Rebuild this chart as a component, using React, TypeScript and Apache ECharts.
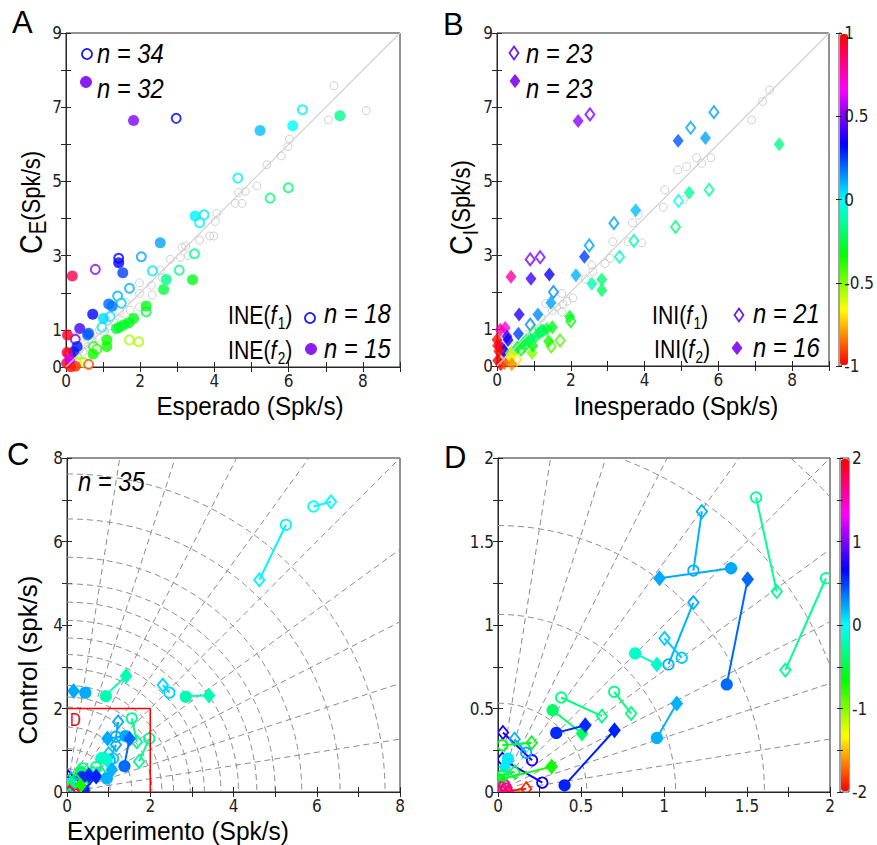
import React, { useEffect, useRef } from 'react';
import * as echarts from 'echarts';

// ---------------- data ----------------
const diag = [[0, 0], [9, 9]];
const aGray = [[8.09,6.91],[7.22,7.58],[7.07,6.66],[6.02,6.14],[5.98,5.94],[5.8,5.69],[5.41,5.45],[5.14,4.88],[4.83,4.73],[4.65,4.7],[4.74,4.41],[4.56,4.41],[4.06,4.14],[4.02,3.92],[3.87,3.53],[3.98,3.53],[3.6,3.42],[3.12,3.22],[3.22,3.26],[3.08,2.95],[2.81,2.9],[2.54,2.61],[1.98,2.27],[1.98,1.98],[2.32,1.94],[1.98,1.62],[1.73,1.53],[1.6,1.75],[1.45,1.5],[1.3,1.2],[1.15,1.25],[1.05,0.95],[0.9,1.0],[0.85,0.8],[0.7,0.75],[0.6,0.55],[0.5,0.6],[0.45,0.4],[0.35,0.45],[0.3,0.3],[0.2,0.25],[1.2,0.9],[1.5,1.25],[2.3,2.2],[2.6,2.4],[3.3,3.0]];
// [x, y, colour value]
const aOpen = [[2.97,6.7,0.33],[6.37,6.93,0.02],[4.63,5.09,0.02],[5.5,4.55,-0.18],[5.99,4.83,-0.18],[3.72,4.1,0.03],[3.6,3.89,0.02],[3.46,3.05,-0.15],[3.05,2.61,-0.15],[2.33,2.59,0.03],[2.03,2.97,0.12],[1.42,2.93,0.33],[1.71,2.12,0.1],[1.39,1.91,0.1],[0.79,2.63,0.52],[1.49,1.72,0.06],[1.19,1.36,0.03],[0.97,1.07,0.03],[2.16,1.49,-0.25],[1.71,0.73,-0.55],[1.96,0.68,-0.55],[0.74,0.55,-0.35],[0.83,0.48,-0.4],[0.25,0.75,0.5],[0.12,0.32,0.45],[0.37,0.14,-0.58],[0.47,0.12,-0.55],[0.3,0.1,-0.6],[0.61,0.07,-0.9],[0.08,0.35,0.7]];
const aFilled = [[1.82,6.64,0.5],[5.23,6.37,0.08],[6.11,6.5,0.0],[7.38,6.77,-0.15],[3.48,4.07,0.02],[2.54,3.35,0.12],[1.42,2.81,0.33],[1.53,2.54,0.25],[0.17,2.45,0.9],[2.7,2.36,-0.15],[2.63,2.09,-0.25],[3.41,2.35,-0.3],[0.72,1.42,0.33],[1.15,1.7,0.2],[1.24,1.64,0.18],[1.01,1.31,0.05],[2.16,1.64,-0.3],[1.82,1.31,-0.3],[1.69,1.19,-0.3],[1.55,1.13,-0.3],[1.44,1.07,-0.28],[1.36,1.04,-0.28],[1.1,0.73,-0.35],[1.1,0.55,-0.35],[0.73,0.35,-0.35],[0.37,1.04,0.42],[0.58,0.86,0.2],[0.61,0.91,0.22],[0.04,0.86,0.95],[0.3,0.55,0.3],[0.21,0.41,0.3],[0.03,0.39,0.97],[0.02,0.1,0.98],[0.12,0.01,-0.98],[0.25,0.02,-0.95],[0.1,0.2,0.6]];
const bGray = [[7.39,7.46],[7.2,7.15],[6.9,6.65],[5.8,5.63],[5.41,5.63],[5.55,5.48],[5.14,5.39],[4.9,5.3],[4.55,4.76],[4.51,4.29],[5.05,4.49],[3.83,4.08],[3.67,3.87],[3.56,3.36],[3.92,3.33],[3.14,3.36],[3.07,2.91],[2.93,2.77],[2.57,2.73],[2.6,2.55],[2.06,1.84],[1.76,1.96],[1.79,1.67],[1.62,1.6],[1.33,1.69],[1.76,1.46],[1.5,1.5],[1.2,1.3],[1.0,1.0],[0.8,0.85],[0.7,0.6],[0.5,0.55],[0.4,0.35],[0.3,0.3],[0.2,0.15],[1.9,1.75],[2.4,2.35]];
const bOpen = [[2.52,6.8,0.5],[5.88,6.86,0.12],[5.25,6.44,0.12],[3.17,3.86,0.12],[2.5,3.26,0.12],[1.53,2.0,0.15],[0.9,1.12,0.15],[4.92,4.46,0.0],[5.75,4.76,-0.12],[4.84,3.76,-0.17],[3.71,3.38,-0.1],[3.32,2.95,-0.08],[0.9,2.88,0.5],[1.17,2.94,0.5],[2.0,1.21,-0.33],[1.71,0.69,-0.42],[1.47,0.53,-0.45],[1.0,0.9,-0.25],[1.2,0.95,-0.2],[0.75,0.55,-0.3],[0.65,0.45,-0.3],[0.54,0.17,-0.7],[0.35,0.3,-0.6],[0.15,0.45,0.6]];
const bFilled = [[2.2,6.62,0.52],[4.91,6.09,0.22],[5.65,6.16,0.12],[7.65,5.99,-0.15],[5.21,4.68,-0.12],[3.76,4.21,0.08],[2.37,2.95,0.25],[2.14,2.45,0.1],[2.57,2.22,-0.1],[2.84,2.34,-0.18],[2.84,2.05,-0.2],[1.42,2.47,0.35],[0.92,2.36,0.42],[0.38,2.41,0.78],[0.6,1.39,0.38],[1.11,1.39,0.15],[1.46,1.71,0.12],[0.58,0.87,0.25],[1.97,1.33,-0.3],[1.4,0.67,-0.35],[0.95,0.35,-0.5],[0.97,0.55,-0.3],[1.05,0.8,-0.2],[1.15,0.9,-0.22],[1.25,0.95,-0.22],[1.35,1.0,-0.25],[1.5,1.05,-0.3],[0.9,0.75,-0.2],[0.8,0.7,-0.22],[0.7,0.6,-0.25],[0.55,0.5,-0.3],[0.22,1.03,0.7],[0.09,0.98,0.78],[0.27,0.8,0.42],[0.3,0.7,0.35],[0.09,0.53,0.55],[0.19,0.41,0.33],[0.36,0.35,-0.55],[0.36,0.2,-0.68],[0.0,0.71,-0.98],[0.02,0.55,0.98],[0.05,0.4,-0.98],[0.02,0.15,-1.0],[0.1,0.05,0.98],[0.2,0.08,-0.9],[0.4,0.05,-0.82]];
// [circleX, circleY, diamondX, diamondY, colour value, filled]
const pairs = [
  [5.92,6.84,6.34,6.95,0.0,0],[5.26,6.4,4.62,5.08,0.02,0],[0.44,2.38,0.16,2.42,0.22,1],[0.93,2.32,1.42,2.78,-0.2,1],
  [2.46,2.38,2.3,2.56,0.1,0],[2.85,2.3,3.41,2.31,-0.2,1],[1.555,1.764,1.679,1.2,-0.28,0],[1.976,1.28,1.731,0.73,-0.28,0],
  [1.177,1.326,1.228,1.68,0.2,0],[1.404,1.34,0.973,1.28,0.22,1],[1.378,0.644,1.504,1.274,0.39,1],[1.027,0.764,1.177,1.134,0.2,0],
  [1.107,0.804,1.003,0.92,0.13,0],[0.826,0.83,0.957,0.764,-0.13,1],[0.7,0.6,0.802,0.47,-0.33,0],[0.381,0.566,0.626,0.454,-0.33,0],
  [0.329,0.49,0.506,0.35,-0.4,1],[0.351,0.354,0.526,0.4,0.56,1],[0.401,0.04,0.702,0.37,0.58,1],[0.957,0.324,1.077,0.53,0.2,1],
  [0.205,0.19,0.03,0.356,0.75,0],[0.17,0.235,0.1,0.316,0.2,0],[0.026,0.28,0.203,0.295,-0.6,0],[0.267,0.056,0.026,0.196,0.7,0],
  [0.015,0.075,0.323,0.152,-0.7,1],[0.02,0.0,0.17,0.02,-1.9,0],[0.04,0.04,0.02,0.03,1.5,0],[0.06,0.2,0.04,0.15,0.05,1],
  [0.03,0.1,0.1,0.12,-0.5,0],[0.05,0.02,0.06,0.0,1.7,0]
];
const cArcRadii = [0.56, 1.04, 1.56, 2.04, 2.28, 2.56, 2.96, 3.3, 3.7, 4.12, 4.56, 5.0, 5.64, 6.56, 7.64];
const dArcRadii = [0.535, 1.07, 1.605, 2.14, 2.675];
const spokeAngles = [9, 18, 27, 36, 45, 54, 63, 72, 81];
const zoomBox = [[0, 2], [2, 2], [2, 0]];
const abXLabels = [0, 2, 4, 6, 8];
const abYLabels = [0, 1, 3, 5, 7, 9];
const cLabels = [0, 2, 4, 6, 8];
const dLabels = [0, 0.5, 1, 1.5, 2];
const cbBLabels = [-1, -0.5, 0, 0.5, 1];
const cbDLabels = [-2, -1, 0, 1, 2];
const HSV = ['#ff0000', '#ffff00', '#00ff00', '#00ffff', '#0000ff', '#ff00ff', '#ff0000'];

// ---------------- style ----------------
const TICKFONT = "'DejaVu Sans Condensed','Liberation Sans',sans-serif";
const TXTFONT = "'Liberation Sans',Arial,sans-serif";
const SX = 0.85; // horizontal squeeze that mimics a narrow face
const AX = '#262626';
const GRIDS = [
  { left: 66, top: 33, width: 334, height: 334 },
  { left: 497, top: 33, width: 332, height: 333 },
  { left: 67, top: 458, width: 333, height: 334 },
  { left: 498, top: 458, width: 332, height: 334 },
  { left: 839, top: 33, width: 9, height: 333 },
  { left: 840, top: 458, width: 9, height: 334 },
];

const measure = (() => {
  let ctx: CanvasRenderingContext2D | null = null;
  return (t: string, size: number, italic = false) => {
    if (!ctx) ctx = document.createElement('canvas').getContext('2d');
    if (!ctx) return t.length * size * 0.5;
    ctx.font = `${italic ? 'italic ' : ''}${size}px ${TXTFONT}`;
    return ctx.measureText(t).width;
  };
})();

const fmt = (labels: number[]) => (v: number) => (labels.some((l) => Math.abs(l - v) < 1e-9) ? String(v) : '');
const tickLabel = (labels: number[], margin: number) => ({ formatter: fmt(labels), fontSize: 17, color: '#222', fontFamily: TICKFONT, margin });

function mainX(grid: number, max: number, interval: number, labels: number[]) {
  return {
    gridIndex: grid, type: 'value', min: 0, max, interval, position: 'bottom',
    axisLine: { show: true, onZero: false, lineStyle: { color: AX, width: 1 } },
    axisTick: { show: true, inside: true, length: 5, lineStyle: { color: AX } },
    axisLabel: tickLabel(labels, 5),
    splitLine: { show: false },
  };
}
function mirrorX(grid: number, max: number, interval: number) {
  return {
    gridIndex: grid, type: 'value', min: 0, max, interval, position: 'top',
    axisLine: { show: false }, axisLabel: { show: false }, splitLine: { show: false },
    axisTick: { show: true, inside: true, length: 5, lineStyle: { color: AX } },
  };
}
function mainY(grid: number, max: number, interval: number, labels: number[]) {
  return {
    gridIndex: grid, type: 'value', min: 0, max, interval, position: 'left',
    axisLine: { show: true, onZero: false, lineStyle: { color: AX, width: 1 } },
    axisTick: { show: true, inside: true, length: 5, lineStyle: { color: AX } },
    axisLabel: tickLabel(labels, 4),
    splitLine: { show: false },
  };
}
function mirrorY(grid: number, max: number, interval: number) {
  return {
    gridIndex: grid, type: 'value', min: 0, max, interval, position: 'right',
    axisLine: { show: false }, axisLabel: { show: false }, splitLine: { show: false },
    axisTick: { show: true, inside: true, length: 5, lineStyle: { color: AX } },
  };
}
function cbY(grid: number, lim: number, labels: number[], side: 'left' | 'right') {
  return {
    gridIndex: grid, type: 'value', min: -lim, max: lim, interval: 0.5, position: side, z: 10,
    axisLine: { show: false }, splitLine: { show: false },
    axisTick: { show: true, inside: true, length: 3, lineStyle: { color: '#222' } },
    axisLabel: side === 'right' ? tickLabel(labels, 3) : { show: false },
  };
}

// horizontally flowing pieces of text (sub/superscripts), squeezed as a group
type Seg = [string, number, boolean?, number?];
function runs(x0: number, y0: number, segs: Seg[], opts: any = {}) {
  let x = 0;
  const children: any[] = [];
  for (const [t, size, italic, dy] of segs) {
    children.push({
      type: 'text', x, y: dy || 0,
      style: { text: t, fontSize: size, fontFamily: TXTFONT, fontStyle: italic ? 'italic' : 'normal', fill: '#000', align: 'left', verticalAlign: 'middle' },
    });
    x += measure(t, size, !!italic) + (italic ? 1.5 : 0);
  }
  return { type: 'group', x: x0, y: y0, scaleX: opts.sx ?? SX, rotation: opts.rotation || 0, children };
}
const label = (x: number, y: number, t: string, size: number, opts: any = {}) => ({
  type: 'text', x, y, scaleX: opts.sx ?? SX,
  style: { text: t, fontSize: size, fontFamily: TXTFONT, fontStyle: opts.italic ? 'italic' : 'normal', fill: opts.fill || '#000', align: opts.align || 'left', verticalAlign: 'middle' },
});
const diamond = (x: number, y: number, w: number, h: number, color: string, filled: boolean) => ({
  type: 'polygon',
  shape: { points: [[x, y - h], [x + w, y], [x, y + h], [x - w, y]] },
  style: { fill: filled ? color : 'none', stroke: color, lineWidth: filled ? 1 : 1.8 },
});
const circ = (x: number, y: number, r: number, color: string, filled: boolean) => ({
  type: 'circle', shape: { cx: x, cy: y, r },
  style: { fill: filled ? color : 'none', stroke: color, lineWidth: filled ? 1 : 1.8 },
});

function pairRender(_p: any, api: any) {
  const c = api.coord([api.value(0), api.value(1)]);
  const d = api.coord([api.value(2), api.value(3)]);
  const color = api.visual('color');
  const filled = api.value(5) === 1;
  const fill = filled ? color : 'none';
  return {
    type: 'group',
    children: [
      { type: 'line', shape: { x1: c[0], y1: c[1], x2: d[0], y2: d[1] }, style: { stroke: color, lineWidth: 2 } },
      { type: 'circle', shape: { cx: c[0], cy: c[1], r: 5.2 }, style: { fill, stroke: color, lineWidth: 1.8 } },
      { type: 'polygon', shape: { points: [[d[0], d[1] - 6.5], [d[0] + 5.2, d[1]], [d[0], d[1] + 6.5], [d[0] - 5.2, d[1]]] }, style: { fill, stroke: color, lineWidth: 1.8 } },
    ],
  };
}
function arcRender(_p: any, api: any) {
  const o = api.coord([0, 0]);
  const r = api.size([api.value(0), 0])[0];
  return {
    type: 'arc',
    shape: { cx: o[0], cy: o[1], r, startAngle: -Math.PI / 2, endAngle: 0 },
    style: { stroke: '#8c8c8c', lineWidth: 1, lineDash: [6, 4], fill: null },
  };
}
function spokeRender(_p: any, api: any) {
  const o = api.coord([0, 0]);
  const a = (api.value(0) * Math.PI) / 180;
  const p = api.coord([30 * Math.cos(a), 30 * Math.sin(a)]);
  return {
    type: 'line',
    shape: { x1: o[0], y1: o[1], x2: p[0], y2: p[1] },
    style: { stroke: '#8c8c8c', lineWidth: 1, lineDash: [6, 4] },
  };
}

function buildOption() {
  const xAxis = [
    mainX(0, 9, 1, abXLabels), mirrorX(0, 9, 1),
    mainX(1, 9, 1, abXLabels), mirrorX(1, 9, 1),
    mainX(2, 8, 1, cLabels), mirrorX(2, 8, 1),
    mainX(3, 2, 0.25, dLabels), mirrorX(3, 2, 0.25),
    { gridIndex: 4, type: 'value', min: 0, max: 1, show: false },
    { gridIndex: 5, type: 'value', min: 0, max: 1, show: false },
  ];
  const yAxis = [
    mainY(0, 9, 1, abYLabels), mirrorY(0, 9, 1),
    mainY(1, 9, 1, abYLabels), mirrorY(1, 9, 1),
    mainY(2, 8, 1, cLabels), mirrorY(2, 8, 1),
    mainY(3, 2, 0.25, dLabels), mirrorY(3, 2, 0.25),
    cbY(4, 1, cbBLabels, 'right'), cbY(4, 1, cbBLabels, 'left'),
    cbY(5, 2, cbDLabels, 'right'), cbY(5, 2, cbDLabels, 'left'),
  ];
  const grayStyle = { color: 'rgba(255,255,255,0)', borderColor: '#c4c4c4', borderWidth: 1 };
  const series: any[] = [];
  const vmAB: number[] = [];
  const vmCD: number[] = [];
  const add = (s: any, list?: number[]) => { if (list) list.push(series.length); series.push(s); };

  // panel A
  add({ type: 'line', xAxisIndex: 0, yAxisIndex: 0, data: diag, symbol: 'none', silent: true, lineStyle: { color: '#cfcfcf', width: 1.2 } });
  add({ type: 'scatter', xAxisIndex: 0, yAxisIndex: 0, data: aGray, symbol: 'circle', symbolSize: 8, itemStyle: grayStyle });
  add({ type: 'scatter', xAxisIndex: 0, yAxisIndex: 0, data: aOpen, symbol: 'emptyCircle', symbolSize: 9 }, vmAB);
  add({ type: 'scatter', xAxisIndex: 0, yAxisIndex: 0, data: aFilled, symbol: 'circle', symbolSize: 11 }, vmAB);
  // panel B
  add({ type: 'line', xAxisIndex: 2, yAxisIndex: 2, data: diag, symbol: 'none', silent: true, lineStyle: { color: '#cfcfcf', width: 1.2 } });
  add({ type: 'scatter', xAxisIndex: 2, yAxisIndex: 2, data: bGray, symbol: 'circle', symbolSize: 8, itemStyle: grayStyle });
  add({ type: 'scatter', xAxisIndex: 2, yAxisIndex: 2, data: bOpen, symbol: 'emptyDiamond', symbolSize: [9, 12] }, vmAB);
  add({ type: 'scatter', xAxisIndex: 2, yAxisIndex: 2, data: bFilled, symbol: 'diamond', symbolSize: [11, 14] }, vmAB);
  // panel C
  add({ type: 'custom', xAxisIndex: 4, yAxisIndex: 4, data: cArcRadii.map((r) => [r]), renderItem: arcRender, clip: true, silent: true });
  add({ type: 'custom', xAxisIndex: 4, yAxisIndex: 4, data: spokeAngles.map((a) => [a]), renderItem: spokeRender, clip: true, silent: true });
  add({ type: 'line', xAxisIndex: 4, yAxisIndex: 4, data: zoomBox, symbol: 'none', silent: true, lineStyle: { color: '#ff0000', width: 1.5 } });
  add({ type: 'custom', xAxisIndex: 4, yAxisIndex: 4, data: pairs, renderItem: pairRender, clip: true }, vmCD);
  // panel D
  add({ type: 'custom', xAxisIndex: 6, yAxisIndex: 6, data: dArcRadii.map((r) => [r]), renderItem: arcRender, clip: true, silent: true });
  add({ type: 'custom', xAxisIndex: 6, yAxisIndex: 6, data: spokeAngles.map((a) => [a]), renderItem: spokeRender, clip: true, silent: true });
  add({ type: 'custom', xAxisIndex: 6, yAxisIndex: 6, data: pairs, renderItem: pairRender, clip: true }, vmCD);
  // colourbar axes holders
  add({ type: 'scatter', xAxisIndex: 8, yAxisIndex: 8, data: [] });
  add({ type: 'scatter', xAxisIndex: 9, yAxisIndex: 10, data: [] });

  const blue = '#1e1ef0';
  const purple = '#8a1ef0';
  const ROT = Math.PI / 2;
  const graphic: any[] = [
    label(12, 22, 'A', 31, { sx: 1 }),
    label(443, 24, 'B', 31, { sx: 1 }),
    label(7, 454, 'C', 31, { sx: 1 }),
    label(444, 457, 'D', 31, { sx: 1 }),
    label(250, 406, 'Esperado (Spk/s)', 25, { align: 'center', sx: 0.97 }),
    label(676, 406, 'Inesperado (Spk/s)', 25, { align: 'center', sx: 0.97 }),
    label(178, 831, 'Experimento (Spk/s)', 25, { align: 'center', sx: 0.98 }),
    { type: 'group', x: 28, y: 660, rotation: ROT, children: [label(0, 0, 'Control (spk/s)', 26, { align: 'center', sx: 1 })] },
    runs(31, 254, [['C', 32], ['E', 24, false, 7], ['(Spk/s)', 26]], { rotation: ROT, sx: 0.85 }),
    runs(461, 255, [['C', 32], ['I', 22, false, 9], ['(Spk/s)', 26]], { rotation: ROT, sx: 0.85 }),
    // legends panel A
    circ(87, 54, 5, blue, false), label(97, 53, 'n = 34', 28, { italic: true }),
    circ(86, 82, 5.5, purple, true), label(97, 88, 'n = 32', 28, { italic: true }),
    runs(228, 315, [['INE(', 25], ['f', 25, true], ['1', 16, false, 9], [')', 25]]),
    circ(310, 318, 5, blue, false), label(324, 313, 'n = 18', 28, { italic: true }),
    runs(228, 350, [['INE(', 25], ['f', 25, true], ['2', 16, false, 9], [')', 25]]),
    circ(311, 349, 5.5, purple, true), label(324, 348, 'n = 15', 28, { italic: true }),
    // legends panel B
    diamond(514, 53, 4.5, 6.5, '#6a1ef0', false), label(526, 53, 'n = 23', 28, { italic: true }),
    diamond(515, 81, 5, 6.5, purple, true), label(526, 88, 'n = 23', 28, { italic: true }),
    runs(652, 315, [['INI(', 25], ['f', 25, true], ['1', 16, false, 9], [')', 25]]),
    diamond(739, 315, 4.5, 6.5, '#6a1ef0', false), label(753, 313, 'n = 21', 28, { italic: true }),
    runs(654, 349, [['INI(', 25], ['f', 25, true], ['2', 16, false, 9], [')', 25]]),
    diamond(737, 348, 5, 6.5, purple, true), label(753, 347, 'n = 16', 28, { italic: true }),
    // panel C
    label(78, 481, 'n = 35', 28, { italic: true }),
    label(70, 720, 'D', 18, { fill: '#ff0000' }),
  ];

  return {
    animation: false,
    backgroundColor: '#ffffff',
    grid: GRIDS.map((g, i) => ({ ...g, show: true, borderColor: i >= 4 ? '#444' : AX, borderWidth: 1, backgroundColor: 'rgba(0,0,0,0)', containLabel: false })),
    xAxis,
    yAxis,
    visualMap: [
      { type: 'continuous', min: -1, max: 1, dimension: 2, seriesIndex: vmAB, inRange: { color: HSV }, calculable: false, show: true, left: 840, top: 34, itemWidth: 8, itemHeight: 331, padding: 0, hoverLink: false },
      { type: 'continuous', min: -2, max: 2, dimension: 4, seriesIndex: vmCD, inRange: { color: HSV }, calculable: false, show: true, left: 841, top: 459, itemWidth: 8, itemHeight: 332, padding: 0, hoverLink: false },
    ],
    series,
    graphic,
  };
}

export default function App() {
  const ref = useRef<HTMLDivElement>(null);
  useEffect(() => {
    if (!ref.current) return;
    const chart = echarts.init(ref.current, undefined, { renderer: 'svg' });
    chart.setOption(buildOption() as any);
    return () => chart.dispose();
  }, []);
  return <div ref={ref} style={{ position: 'fixed', left: 0, top: 0, width: 877, height: 845, background: '#fff' }} />;
}
